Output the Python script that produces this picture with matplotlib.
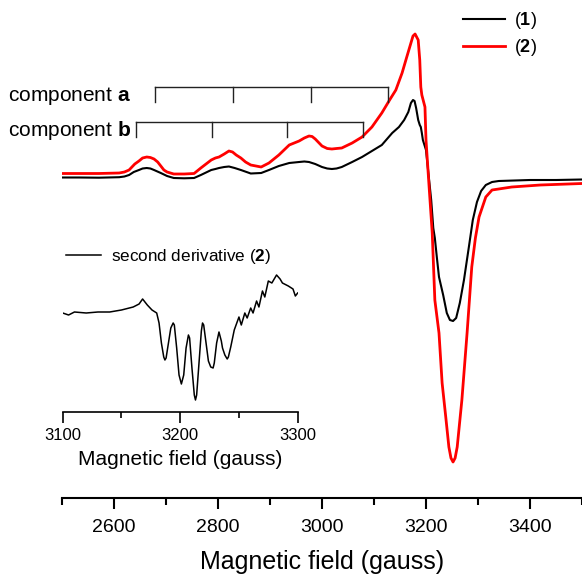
import matplotlib
matplotlib.use('Agg')
import matplotlib.pyplot as plt
from matplotlib.ticker import MultipleLocator

plt.rcParams['font.family'] = ['Liberation Sans', 'DejaVu Sans']
plt.rcParams['mathtext.fontset'] = 'custom'
plt.rcParams['mathtext.rm'] = 'Liberation Sans'
plt.rcParams['mathtext.bf'] = 'Liberation Sans:bold'

# -------------------------------------------------------------------------------------------------------------------- #
# Data (arbitrary intensity units)
# -------------------------------------------------------------------------------------------------------------------- #

field_1 = [2500, 2533, 2571, 2610, 2620, 2629, 2638, 2648, 2655, 2663, 2670, 2677, 2690, 2702, 2715, 2735,
           2754, 2767, 2777, 2787, 2795, 2802, 2812, 2821, 2832, 2844, 2863, 2883, 2898, 2917, 2937, 2956,
           2966, 2975, 2987, 3000, 3010, 3019, 3028, 3038, 3058, 3077, 3096, 3115, 3135, 3148, 3158, 3166,
           3171, 3175, 3178, 3181, 3185, 3188, 3190, 3192, 3194, 3200, 3206, 3210, 3214, 3217, 3221, 3225,
           3233, 3240, 3246, 3252, 3258, 3265, 3273, 3283, 3290, 3298, 3306, 3315, 3327, 3340, 3400, 3450,
           3500]
signal_1 = [0.5, 0.5, 0.3, 0.8, 1.5, 3, 6, 8, 9.5, 10, 9.5, 8, 5, 2, 0, -0.3,
            0, 3, 5.5, 8, 9, 10, 11, 11.5, 10, 8, 4.5, 5, 8, 12, 15, 16,
            16.5, 16, 14, 11, 9.5, 9, 9.5, 11, 16, 21, 27, 33, 45, 51, 58, 66,
            75, 78, 77, 70, 58, 53, 51, 45, 38, 28, -2, -22, -50, -60, -80, -99,
            -117, -135, -142, -143, -140, -125, -102, -67, -42, -24, -13, -7, -4, -3, -2, -2,
            -1.5]

field_2 = [2500, 2571, 2610, 2620, 2629, 2640, 2648, 2655, 2663, 2670, 2677, 2684, 2690, 2696, 2702, 2715,
           2735, 2754, 2767, 2777, 2787, 2795, 2802, 2812, 2821, 2828, 2835, 2844, 2853, 2863, 2883, 2898,
           2917, 2937, 2956, 2966, 2975, 2981, 2987, 3000, 3010, 3019, 3028, 3038, 3058, 3077, 3096, 3115,
           3130, 3142, 3154, 3163, 3171, 3175, 3179, 3182, 3185, 3188, 3190, 3192, 3198, 3200, 3206, 3212,
           3217, 3225, 3231, 3238, 3244, 3248, 3252, 3256, 3260, 3269, 3279, 3288, 3295, 3302, 3315, 3327,
           3365, 3420, 3500]
signal_2 = [4.5, 4.5, 5, 6, 8, 14, 17, 20, 21, 20.5, 19, 16, 12, 8, 6, 4,
            4, 4.5, 10, 14, 18, 20, 21, 24, 27, 26, 23, 20, 16, 13, 11, 15,
            23, 33, 37, 40, 42, 41.5, 39, 32, 29.5, 29, 29.5, 30, 35, 41, 51, 65,
            78, 88, 105, 121, 135, 142, 144, 141, 138, 118, 91, 83, 71, 38, -9, -55,
            -122, -155, -205, -239, -269, -280, -284, -280, -269, -222, -155, -89, -60, -39, -19, -12,
            -9, -7, -5.5]

field_d2 = [3100, 3105, 3110, 3120, 3130, 3140, 3150, 3160, 3165, 3168, 3172, 3176, 3180, 3182, 3184, 3186,
            3187, 3188, 3190, 3192, 3194, 3195, 3197, 3199, 3201, 3203, 3205, 3207, 3208, 3210, 3212, 3213,
            3214, 3216, 3218, 3219, 3220, 3222, 3224, 3226, 3228, 3229, 3231, 3233, 3235, 3236, 3238, 3240,
            3241, 3243, 3246, 3250, 3252, 3255, 3257, 3260, 3262, 3265, 3267, 3270, 3272, 3275, 3278, 3282,
            3285, 3287, 3292, 3296, 3298, 3300]
deriv_2 = [0, -2, 1, 0, 1, 1, 3, 6, 9, 14, 8, 3, 0, -10, -30, -44,
           -47, -45, -30, -15, -10, -12, -35, -62, -71, -62, -35, -22, -25, -55, -82, -87,
           -82, -50, -18, -10, -12, -30, -48, -54, -55, -50, -30, -19, -28, -35, -42, -46,
           -44, -34, -17, -4, -12, 0, -5, 5, 0, 12, 6, 22, 16, 32, 30, 38,
           34, 30, 27, 24, 17, 20]

comp_a = [2679, 2829, 2978, 3127]
comp_b = [2643, 2788, 2933, 3078]

# -------------------------------------------------------------------------------------------------------------------- #
# Plot
# -------------------------------------------------------------------------------------------------------------------- #

fig = plt.figure(figsize=(5.82, 5.74), dpi=100)
ax = fig.add_axes([62 / 582, 76 / 574, 520 / 582, 498 / 574])

ax.plot(field_1, signal_1, color='black', lw=1.5, label=r'($\mathbf{1}$)')
ax.plot(field_2, signal_2, color='red', lw=2, label=r'($\mathbf{2}$)')

# stick diagrams for the two components
for sticks, top, name in [(comp_a, 90.7, 'a'), (comp_b, 56.3, 'b')]:
    ax.plot([sticks[0], sticks[-1]], [top, top], color='#222222', lw=1)
    for s in sticks:
        ax.plot([s, s], [top, top - 15], color='#222222', lw=1)
    ax.text(2633, top - 9, r'component $\mathbf{%s}$' % name, ha='right', va='center', fontsize=15)

ax.set_xlim(2500, 3500)
ax.set_ylim(-320, 178)
for side in ['left', 'top', 'right']:
    ax.spines[side].set_visible(False)
ax.spines['bottom'].set_linewidth(1.5)
ax.set_yticks([])
ax.xaxis.set_major_locator(MultipleLocator(200))
ax.xaxis.set_minor_locator(MultipleLocator(100))
ax.tick_params(axis='x', which='major', length=8, width=1.5, pad=7, labelsize=14)
ax.tick_params(axis='x', which='minor', length=5, width=1.5)
ax.set_xlabel('Magnetic field (gauss)', fontsize=18, labelpad=10)
ax.patch.set_visible(False)

ax.legend(loc='upper left', bbox_to_anchor=(463 / 582, 1 - 10 / 574), bbox_transform=fig.transFigure,
          borderaxespad=0, borderpad=0, handlelength=2.35, handletextpad=0.45, labelspacing=0.35,
          fontsize=13, frameon=False)

# inset: second derivative
axi = fig.add_axes([62.7 / 582, (574 - 411.7) / 574, 235 / 582, 161.7 / 574])
axi.plot(field_d2, deriv_2, color='black', lw=1.1, label=r'second derivative ($\mathbf{2}$)')
axi.set_xlim(3100, 3300)
axi.set_ylim(-98.7, 63)
for side in ['left', 'top', 'right']:
    axi.spines[side].set_visible(False)
axi.spines['bottom'].set_linewidth(1.2)
axi.set_yticks([])
axi.xaxis.set_major_locator(MultipleLocator(100))
axi.xaxis.set_minor_locator(MultipleLocator(50))
axi.tick_params(axis='x', which='major', length=8, width=1.2, pad=4, labelsize=12)
axi.tick_params(axis='x', which='minor', length=4, width=1.2)
axi.set_xlabel('Magnetic field (gauss)', fontsize=15, labelpad=5)
axi.patch.set_visible(False)
axi.legend(loc='upper left', bbox_to_anchor=(66 / 582, 1 - 246.5 / 574), bbox_transform=fig.transFigure,
           borderaxespad=0, borderpad=0, handlelength=2.05, handletextpad=0.6, fontsize=12.3, frameon=False)

plt.savefig('out.png', dpi=100)
